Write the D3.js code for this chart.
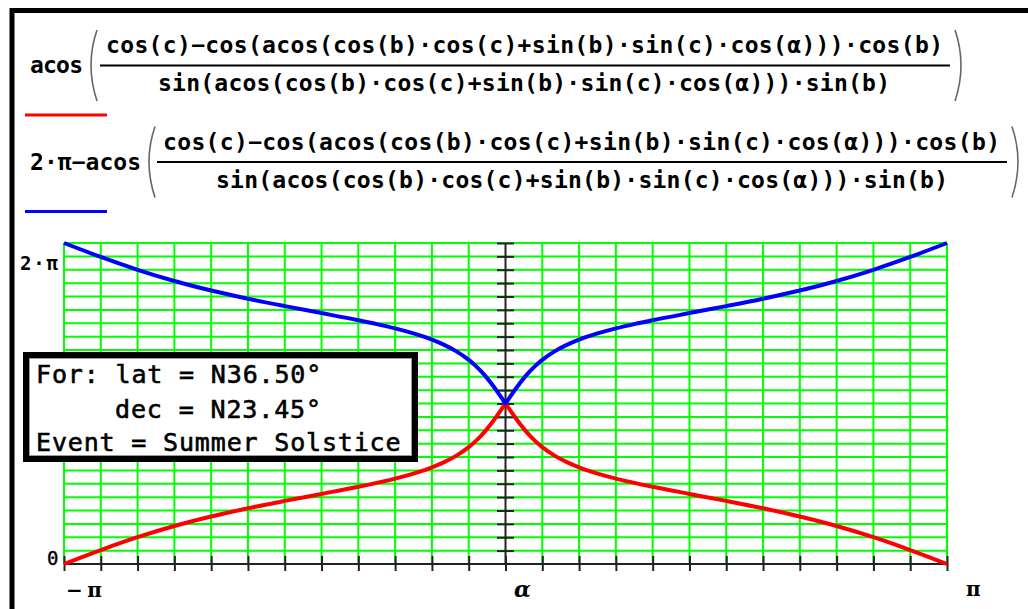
<!DOCTYPE html>
<html>
<head>
<meta charset="utf-8">
<script src="https://cdn.jsdelivr.net/npm/d3@7"></script>
<style>
  body { margin: 0; background: #fff; }
  svg { display: block; }
</style>
</head>
<body>
<svg id="main_svg" width="1028" height="609"></svg>
<script>
// hour angle alpha (degrees) (-pi .. pi)
var hourAngle = [-180, -165, -150, -135, -120, -105, -90, -75, -60, -52.5, -45, -37.5, -30, -25, -20, -15, -12.5, -10, -7.5, -5, -2.5, -1,
  0, 1, 2.5, 5, 7.5, 10, 12.5, 15, 20, 25, 30, 37.5, 45, 52.5, 60, 75, 90, 105, 120, 135, 150, 165, 180];
// red trace (acos(...)), degrees, 0 .. 2pi axis
var azimuthRed = [0, 15.66, 30.06, 42.59, 53.28, 62.51, 70.78, 78.60, 86.61, 90.97, 95.81, 101.44, 108.41, 114.25, 121.58, 131.11, 136.99, 143.78, 151.57, 160.33, 169.93, 175.94,
  180, 175.94, 169.93, 160.33, 151.57, 143.78, 136.99, 131.11, 121.58, 114.25, 108.41, 101.44, 95.81, 90.97, 86.61, 78.60, 70.78, 62.51, 53.28, 42.59, 30.06, 15.66, 0];
// blue trace (2pi - acos(...)), degrees
var azimuthBlue = [360, 344.34, 329.94, 317.41, 306.72, 297.49, 289.22, 281.40, 273.39, 269.03, 264.19, 258.56, 251.59, 245.75, 238.42, 228.89, 223.01, 216.22, 208.43, 199.67, 190.07, 184.06,
  180, 184.06, 190.07, 199.67, 208.43, 216.22, 223.01, 228.89, 238.42, 245.75, 251.59, 258.56, 264.19, 269.03, 273.39, 281.40, 289.22, 297.49, 306.72, 317.41, 329.94, 344.34, 360];

var xTickLabels = ['\u2212\u03c0', '\u03b1', '\u03c0'];
var yTickLabels = ['0', '2\u00b7\u03c0'];
var numeratorText = 'cos(c)\u2212cos(acos(cos(b)\u00b7cos(c)+sin(b)\u00b7sin(c)\u00b7cos(\u03b1)))\u00b7cos(b)';
var denominatorText = 'sin(acos(cos(b)\u00b7cos(c)+sin(b)\u00b7sin(c)\u00b7cos(\u03b1)))\u00b7sin(b)';
var infoLines = ['For: lat = N36.50\u00b0', 'dec = N23.45\u00b0', 'Event = Summer Solstice'];

var svg = d3.select('#main_svg');
var mono = "'DejaVu Sans Mono', monospace";

// outer frame
svg.append('rect')
  .attr('x', 12).attr('y', 10.5).attr('width', 1100).attr('height', 700)
  .attr('fill', 'none').attr('stroke', '#000').attr('stroke-width', 5);

// scales
var x = d3.scaleLinear().domain([-180, 180]).range([64, 947]);
var y = d3.scaleLinear().domain([0, 360]).range([564, 243]);
var xGrid = d3.range(-180, 181, 15);
var yGrid = d3.range(0, 361, 15);

var g = svg.append('g').attr('id', 'main_svg_g');

// green grid
g.selectAll('.vgrid')
  .data(xGrid.filter(function(d){ return d != 0; }))
  .enter().append('line')
  .attr('x1', function(d){ return x(d); }).attr('x2', function(d){ return x(d); })
  .attr('y1', y(360)).attr('y2', y(0))
  .attr('stroke', '#00ff00').attr('stroke-width', 2);
g.selectAll('.hgrid')
  .data(yGrid.filter(function(d){ return d != 0; }))
  .enter().append('line')
  .attr('x1', x(-180)).attr('x2', x(180))
  .attr('y1', function(d){ return y(d); }).attr('y2', function(d){ return y(d); })
  .attr('stroke', '#00ff00').attr('stroke-width', 2);

// black axes crossing at (alpha = 0, value = 0)
var xAxis = d3.axisBottom(x).tickValues(xGrid).tickSize(15).tickFormat('');
g.append('g')
  .attr('transform', 'translate(0,' + (y(0) - 8) + ')')
  .call(xAxis)
  .call(function(s){
    s.select('.domain').remove();
    s.selectAll('line').attr('stroke', '#222').attr('stroke-width', 2);
  });
g.append('line')
  .attr('x1', x(-180)).attr('x2', x(180)).attr('y1', y(0)).attr('y2', y(0))
  .attr('stroke', '#222').attr('stroke-width', 2);

var yAxis = d3.axisLeft(y).tickValues(yGrid.filter(function(d){ return d != 0; })).tickSize(17).tickFormat('');
g.append('g')
  .attr('transform', 'translate(' + (x(0) + 8.5) + ',0)')
  .call(yAxis)
  .call(function(s){
    s.select('.domain').remove();
    s.selectAll('line').attr('stroke', '#222').attr('stroke-width', 2);
  });
g.append('line')
  .attr('x1', x(0)).attr('x2', x(0)).attr('y1', y(360)).attr('y2', y(0))
  .attr('stroke', '#222').attr('stroke-width', 2);

// traces
var line = d3.line().curve(d3.curveMonotoneX);
g.append('path')
  .attr('d', line(hourAngle.map(function(a, i){ return [x(a), y(azimuthRed[i])]; })))
  .attr('fill', 'none').attr('stroke', '#ff0000').attr('stroke-width', 4);
g.append('path')
  .attr('d', line(hourAngle.map(function(a, i){ return [x(a), y(azimuthBlue[i])]; })))
  .attr('fill', 'none').attr('stroke', '#0000ff').attr('stroke-width', 4);

// axis labels
svg.append('text').text(yTickLabels[1])
  .attr('x', 20).attr('y', 270).attr('textLength', 38)
  .attr('font-family', mono).attr('font-weight', 'bold').attr('font-size', 19);
svg.append('text').text(yTickLabels[0])
  .attr('x', 47).attr('y', 565)
  .attr('font-family', mono).attr('font-size', 19)
  .attr('stroke', '#000').attr('stroke-width', 0.4);
svg.append('text').text(xTickLabels[0])
  .attr('x', 66).attr('y', 597).attr('textLength', 36)
  .attr('font-family', "'DejaVu Serif', serif").attr('font-weight', 'bold').attr('font-size', 20);
svg.append('text').text(xTickLabels[1])
  .attr('x', 514).attr('y', 597)
  .attr('font-family', "'DejaVu Serif', serif").attr('font-weight', 'bold').attr('font-style', 'italic').attr('font-size', 22);
svg.append('text').text(xTickLabels[2])
  .attr('x', 966).attr('y', 596)
  .attr('font-family', "'DejaVu Serif', serif").attr('font-weight', 'bold').attr('font-size', 20);

// formula legend
function formula(dy, prefix, prefixLen, numX, denX, lp, rp, color) {
  var f = svg.append('g').attr('transform', 'translate(0,' + dy + ')');
  f.append('text').text(prefix)
    .attr('x', 30).attr('y', 73).attr('textLength', prefixLen)
    .attr('font-family', mono).attr('font-weight', 'bold').attr('font-size', 23);
  f.append('text').text(numeratorText)
    .attr('x', numX).attr('y', 53).attr('textLength', 837)
    .attr('font-family', mono).attr('font-weight', 'bold').attr('font-size', 23);
  f.append('text').text(denominatorText)
    .attr('x', denX).attr('y', 91).attr('textLength', 732)
    .attr('font-family', mono).attr('font-weight', 'bold').attr('font-size', 23);
  f.append('line')
    .attr('x1', numX - 6).attr('x2', numX + 844).attr('y1', 65.5).attr('y2', 65.5)
    .attr('stroke', '#000').attr('stroke-width', 2);
  f.append('path').attr('d', 'M' + (lp + 9) + ',30 Q' + (lp - 3) + ',65 ' + (lp + 9) + ',101')
    .attr('fill', 'none').attr('stroke', '#666').attr('stroke-width', 1.6);
  f.append('path').attr('d', 'M' + (rp - 9) + ',30 Q' + (rp + 3) + ',65 ' + (rp - 9) + ',101')
    .attr('fill', 'none').attr('stroke', '#666').attr('stroke-width', 1.6);
  f.append('line')
    .attr('x1', 25).attr('x2', 107).attr('y1', 115).attr('y2', 115)
    .attr('stroke', color).attr('stroke-width', 3);
}
formula(0, 'acos', 53, 106, 158, 88, 964, '#ff0000');
formula(96.5, '2\u00b7\u03c0\u2212acos', 111, 163, 216, 146, 1021, '#0000ff');

// info box
svg.append('rect')
  .attr('x', 26).attr('y', 355).attr('width', 389).attr('height', 104)
  .attr('fill', '#fff').attr('stroke', '#000').attr('stroke-width', 6);
svg.append('rect')
  .attr('x', 29.5).attr('y', 358.5).attr('width', 382).attr('height', 97)
  .attr('fill', 'none').attr('stroke', '#999').attr('stroke-width', 1);
var infoX = [36, 115, 36];
var infoY = [383, 418, 451];
svg.selectAll('.info')
  .data(infoLines)
  .enter().append('text')
  .text(function(d){ return d; })
  .attr('x', function(d, i){ return infoX[i]; })
  .attr('y', function(d, i){ return infoY[i]; })
  .attr('textLength', function(d){ return d.length * 15.85; })
  .attr('font-family', mono).attr('font-size', 25)
  .attr('stroke', '#000').attr('stroke-width', 0.6);
</script>
</body>
</html>
